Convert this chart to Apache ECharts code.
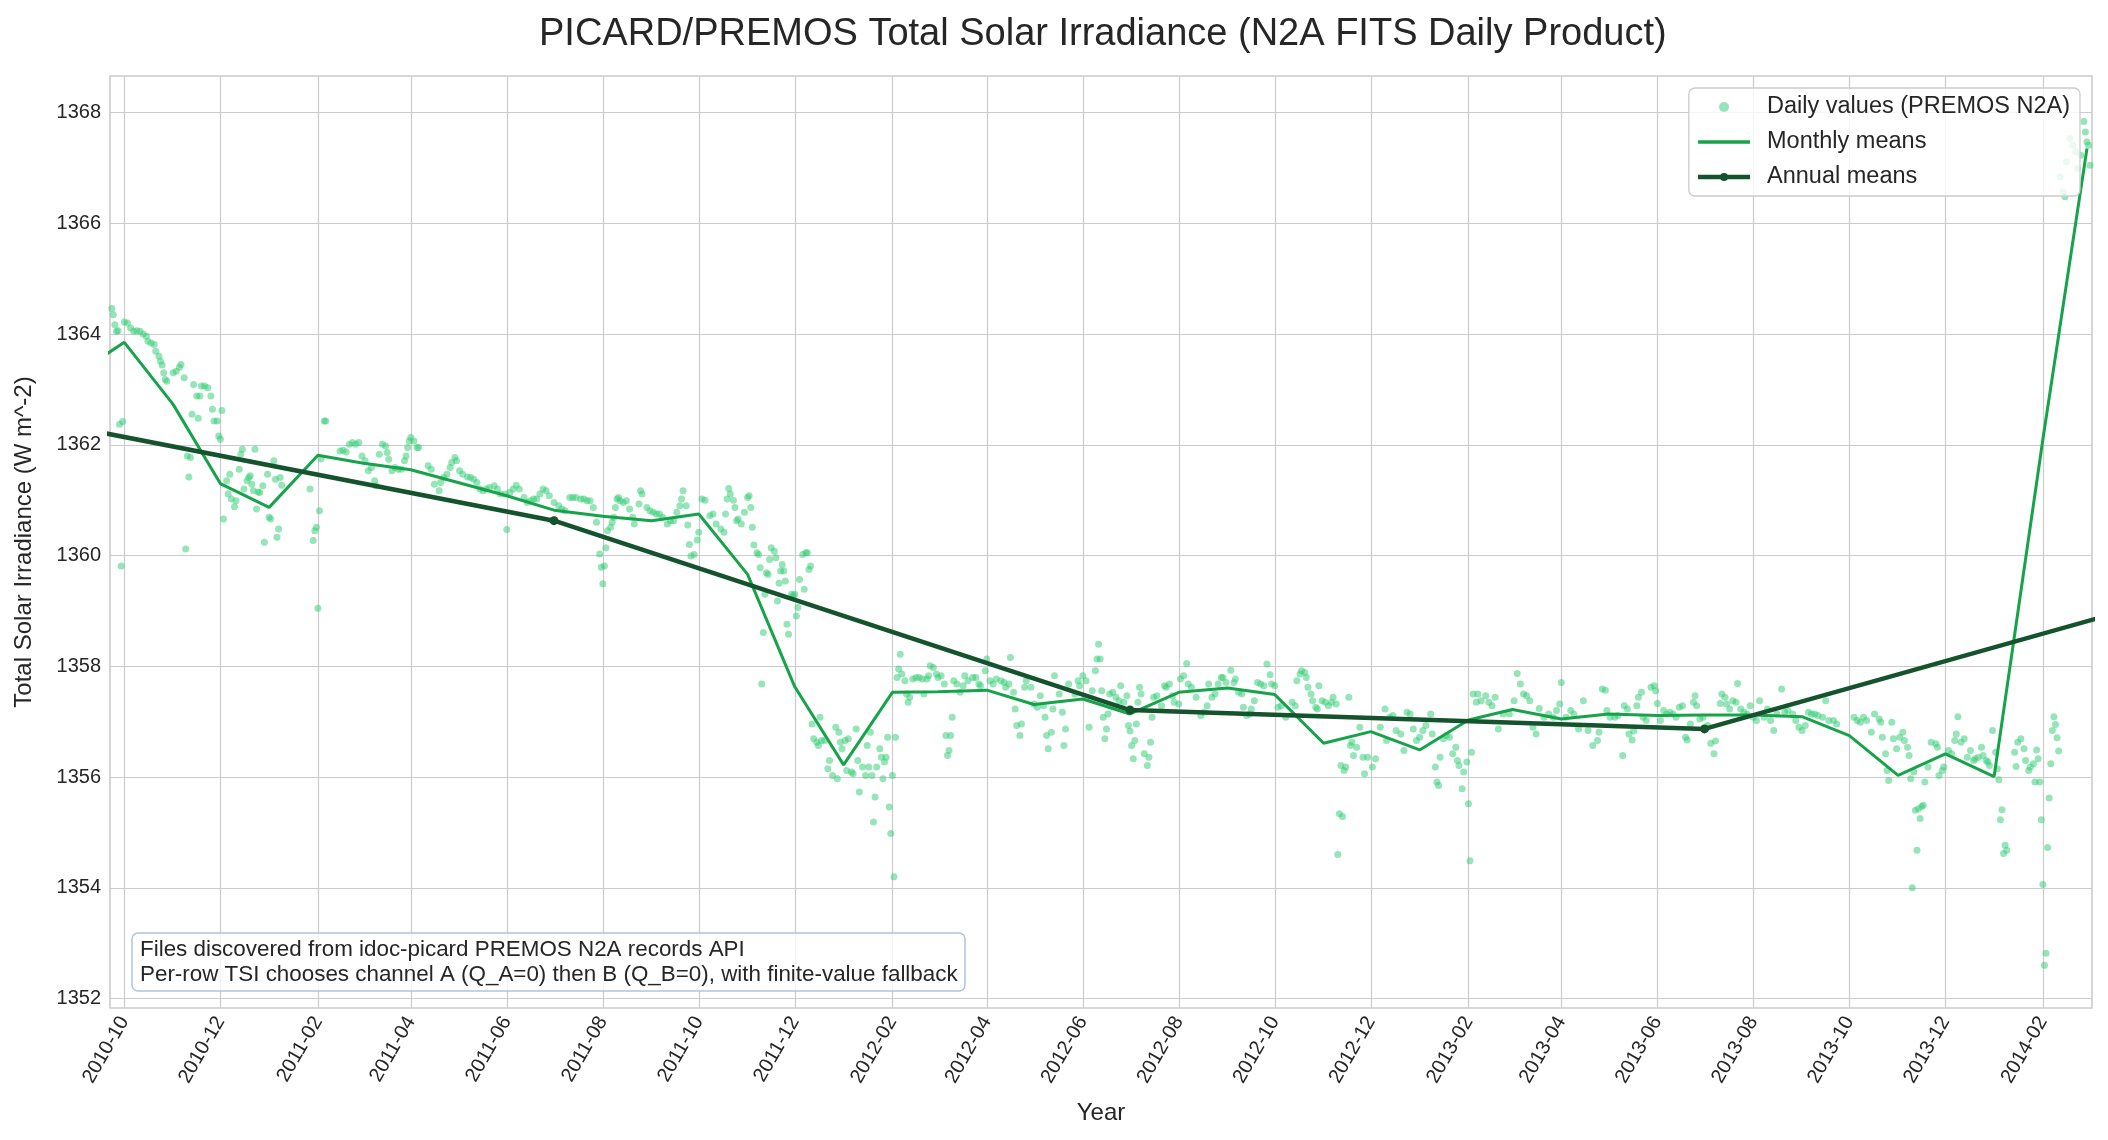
<!DOCTYPE html>
<html>
<head>
<meta charset="utf-8">
<title>PICARD/PREMOS Total Solar Irradiance</title>
<script src="https://cdn.jsdelivr.net/npm/echarts@6.0.0/dist/echarts.min.js"></script>
<style>
    html, body { margin: 0; padding: 0; background: #ffffff; }
    #chart { width: 2108px; height: 1140px; }
</style>
</head>
<body>
<div id="chart"></div>
<script>
// daily values: [days after 2010-10-01, TSI W m^-2]
const daily2010 = [
    [-8, 1364.46], [-7, 1364.35], [-6, 1364.17], [-5, 1364.05], [-4, 1364.06], [-3, 1362.37], [-2, 1359.81], [-1, 1362.42],
    [0, 1364.22], [2, 1364.20], [4, 1364.11], [6, 1364.05], [8, 1364.06], [10, 1364.05], [12, 1364.00], [14, 1363.96],
    [15, 1363.87], [17, 1363.84], [19, 1363.81], [20, 1363.69], [22, 1363.60], [23, 1363.51], [24, 1363.44], [25, 1363.30],
    [26, 1363.18], [27, 1363.15], [31, 1363.30], [33, 1363.33], [35, 1363.40], [36, 1363.45], [38, 1363.21], [39, 1360.12],
    [40, 1361.80], [41, 1361.42], [42, 1361.77], [43, 1362.55], [44, 1363.09], [46, 1362.88], [47, 1362.48], [48, 1362.88],
    [49, 1363.06], [51, 1363.06], [53, 1363.03], [55, 1362.88], [56, 1362.64], [57, 1362.43], [59, 1362.43], [60, 1362.16],
    [61, 1362.10], [62, 1362.62], [63, 1360.66], [65, 1361.35], [66, 1361.11], [67, 1361.47], [68, 1361.02], [70, 1360.88],
    [71, 1360.99], [73, 1361.56], [74, 1361.83], [75, 1361.92], [76, 1361.20], [78, 1361.35], [79, 1361.41], [80, 1361.44],
    [81, 1361.29], [82, 1361.17], [83, 1361.92], [84, 1360.84], [85, 1361.15], [86, 1361.14], [88, 1361.26], [89, 1360.24],
    [91, 1361.47]
]
const daily2011 = [
    [92, 1360.69], [93, 1360.66], [95, 1361.71], [96, 1361.38], [97, 1360.33], [98, 1360.48], [99, 1361.41], [100, 1361.27],
    [118, 1361.20], [120, 1360.27], [121, 1360.45], [122, 1360.51], [123, 1359.05], [124, 1360.81], [125, 1361.75], [127, 1362.43],
    [128, 1362.43], [137, 1361.89], [139, 1361.90], [141, 1361.87], [143, 1362.01], [145, 1362.04], [147, 1362.01], [149, 1362.04],
    [151, 1361.80], [153, 1361.71], [155, 1361.53], [157, 1361.59], [159, 1361.35], [160, 1361.26], [162, 1361.83], [164, 1362.01],
    [166, 1361.98], [167, 1361.86], [168, 1361.74], [170, 1361.53], [172, 1361.59], [174, 1361.56], [176, 1361.56], [178, 1361.71],
    [179, 1361.80], [180, 1361.95], [181, 1362.07], [182, 1362.13], [184, 1362.07], [186, 1361.95], [187, 1361.95],
    [193, 1361.62], [195, 1361.56], [197, 1361.29], [200, 1361.17], [201, 1361.32], [203, 1361.41], [205, 1361.47], [207, 1361.59],
    [208, 1361.68], [210, 1361.77], [211, 1361.71], [213, 1361.53], [215, 1361.47], [218, 1361.42], [220, 1361.41], [222, 1361.38],
    [224, 1361.32], [226, 1361.20], [228, 1361.17], [230, 1361.20], [232, 1361.23], [235, 1361.26], [237, 1361.20], [239, 1361.11],
    [242, 1361.11], [243, 1360.47], [245, 1361.14], [247, 1361.20], [249, 1361.27], [251, 1361.20], [254, 1361.05], [256, 1360.96],
    [258, 1360.99], [260, 1361.02], [262, 1361.02], [264, 1361.11], [266, 1361.20], [268, 1361.17], [270, 1361.08], [273, 1360.96],
    [276, 1360.90], [278, 1360.84], [280, 1360.81], [283, 1361.05], [285, 1361.05], [287, 1361.05], [290, 1361.02], [292, 1361.02],
    [294, 1360.99], [296, 1360.99], [298, 1360.87], [300, 1360.60], [302, 1360.03], [303, 1359.79], [304, 1359.49], [305, 1359.81],
    [306, 1360.14], [307, 1360.45], [309, 1360.51], [310, 1360.60], [311, 1360.69], [312, 1360.87], [313, 1361.02], [314, 1361.05],
    [315, 1360.99], [317, 1360.96], [319, 1360.99], [321, 1360.84], [323, 1360.69], [324, 1360.57], [327, 1360.93], [328, 1361.17],
    [329, 1361.11], [332, 1360.87], [334, 1360.81], [336, 1360.78], [338, 1360.75], [340, 1360.75], [342, 1360.69], [345, 1360.57],
    [347, 1360.63], [349, 1360.63], [351, 1360.78], [353, 1360.90], [354, 1361.02], [355, 1361.17], [357, 1360.90], [358, 1360.55],
    [359, 1360.20], [360, 1359.99], [362, 1360.02], [364, 1360.28], [365, 1360.42], [367, 1361.02], [369, 1361.00], [372, 1360.72],
    [374, 1360.75], [376, 1360.57], [379, 1360.48], [381, 1360.42], [382, 1360.75], [383, 1361.02], [384, 1361.21], [385, 1361.11],
    [387, 1361.00], [388, 1360.87], [389, 1360.63], [390, 1360.66], [392, 1360.57], [394, 1360.78], [396, 1361.05], [397, 1361.08],
    [398, 1360.87], [399, 1360.51], [400, 1360.19], [402, 1360.05], [403, 1360.02], [404, 1359.78], [405, 1357.68], [406, 1358.61],
    [407, 1359.30], [408, 1359.69], [409, 1359.66], [410, 1359.93], [411, 1360.14], [413, 1360.08], [414, 1359.96], [415, 1359.18],
    [416, 1359.50], [417, 1359.72], [418, 1359.84], [419, 1359.72], [420, 1359.54], [421, 1358.76], [422, 1358.58], [424, 1359.30],
    [425, 1359.27], [426, 1359.30], [427, 1358.91], [428, 1359.06], [429, 1359.57], [431, 1360.02], [432, 1359.39], [433, 1360.05],
    [434, 1360.05], [435, 1359.75], [436, 1359.81], [437, 1356.96], [438, 1356.69], [440, 1356.63], [441, 1356.57], [442, 1357.08],
    [443, 1356.66], [445, 1356.66], [447, 1356.15], [448, 1356.30], [450, 1356.03], [452, 1356.90], [453, 1355.97], [454, 1356.81],
    [455, 1356.63], [456, 1356.51]
]
const daily2012 = [
    [458, 1356.66], [459, 1356.12], [460, 1356.69], [462, 1356.09], [463, 1356.06], [465, 1356.87], [466, 1356.30], [467, 1355.73],
    [469, 1356.18], [471, 1356.03], [472, 1356.57], [473, 1356.18], [474, 1356.81], [475, 1356.03], [476, 1355.19], [477, 1355.64],
    [478, 1356.18], [480, 1356.51], [481, 1356.36], [482, 1355.97], [483, 1356.27], [484, 1356.36], [485, 1356.72], [486, 1355.46],
    [487, 1354.98], [488, 1356.03], [489, 1354.20], [490, 1356.72], [491, 1357.80], [492, 1357.95], [493, 1358.22], [494, 1357.86],
    [496, 1357.74], [497, 1357.50], [498, 1357.35], [499, 1357.44], [501, 1357.77], [503, 1357.80], [505, 1357.80], [507, 1357.77],
    [508, 1357.50], [510, 1357.77], [511, 1357.83], [512, 1358.01], [514, 1357.98], [516, 1357.86], [517, 1357.80], [519, 1357.83],
    [521, 1357.68], [522, 1356.75], [523, 1356.39], [524, 1356.48], [525, 1356.75], [526, 1357.08], [527, 1357.74], [529, 1357.68],
    [531, 1357.53], [533, 1357.65], [534, 1357.83], [536, 1357.74], [539, 1357.80], [541, 1357.80], [543, 1357.68], [544, 1357.65],
    [547, 1357.92], [548, 1358.13], [550, 1357.74], [552, 1357.68], [554, 1357.77], [557, 1357.74], [559, 1357.71], [560, 1357.62],
    [562, 1357.68], [563, 1358.16], [565, 1357.53], [566, 1357.23], [567, 1356.93], [569, 1356.75], [570, 1356.96], [572, 1357.62],
    [573, 1357.74], [576, 1357.62], [578, 1357.32], [580, 1357.26], [582, 1357.47], [584, 1357.29], [585, 1357.08], [586, 1356.75],
    [587, 1356.51], [589, 1356.81], [590, 1357.23], [591, 1357.83], [594, 1357.50], [596, 1357.17], [597, 1356.57], [598, 1356.87],
    [600, 1357.68], [604, 1357.50], [606, 1357.74], [607, 1357.65], [609, 1357.83], [611, 1357.74], [613, 1356.90], [615, 1357.56],
    [617, 1357.92], [618, 1358.13], [619, 1358.40], [620, 1358.13], [621, 1357.56], [622, 1357.08], [623, 1356.69], [624, 1356.87],
    [625, 1357.14], [626, 1357.50], [628, 1357.53], [630, 1357.44], [632, 1357.38], [633, 1357.65], [635, 1357.35], [637, 1357.47],
    [638, 1356.93], [639, 1356.83], [640, 1356.57], [641, 1356.33], [642, 1356.66], [643, 1356.96], [644, 1357.35], [645, 1357.62],
    [646, 1357.50], [648, 1356.42], [650, 1356.21], [651, 1356.36], [652, 1356.63], [653, 1357.08], [654, 1357.44], [656, 1357.47],
    [659, 1357.29], [661, 1357.65], [662, 1357.62], [664, 1357.68], [666, 1357.47], [667, 1357.35], [670, 1357.32], [671, 1357.77],
    [673, 1357.83], [675, 1358.05], [676, 1357.68], [678, 1357.62], [681, 1357.44], [684, 1357.11], [686, 1357.17], [688, 1357.29],
    [689, 1357.68], [691, 1357.44], [693, 1357.50], [695, 1357.68], [697, 1357.80], [698, 1357.80], [700, 1357.71], [703, 1357.93],
    [705, 1357.71], [706, 1357.77], [708, 1357.53], [710, 1357.50], [711, 1357.26], [713, 1357.11], [715, 1357.14], [716, 1357.23],
    [718, 1357.38], [720, 1357.71], [722, 1357.68], [724, 1357.65], [726, 1358.04], [728, 1357.85], [729, 1357.68], [731, 1357.65],
    [733, 1357.26], [735, 1357.29], [738, 1357.08], [742, 1357.35], [744, 1357.29], [745, 1357.74], [747, 1357.86], [748, 1357.92],
    [750, 1357.89], [751, 1357.80], [752, 1357.62], [754, 1357.50], [755, 1357.38], [757, 1357.26], [758, 1357.23], [759, 1357.65],
    [761, 1357.38], [763, 1357.35], [765, 1357.29], [767, 1357.35], [768, 1357.44], [770, 1357.32], [771, 1354.60], [772, 1355.34],
    [773, 1356.21], [774, 1355.29], [775, 1356.12], [776, 1356.18], [778, 1357.44], [779, 1356.57], [780, 1356.63], [781, 1356.39],
    [783, 1356.54], [785, 1356.90], [787, 1356.36], [788, 1356.06], [790, 1356.36], [793, 1356.18], [795, 1356.33], [798, 1356.90],
    [801, 1357.23], [802, 1356.66], [804, 1357.08], [806, 1357.11], [808, 1356.84], [811, 1356.78], [813, 1356.48], [815, 1357.17],
    [817, 1357.14], [819, 1356.87], [821, 1356.66]
]
const daily2013 = [
    [823, 1356.72], [825, 1356.84], [827, 1356.93], [830, 1357.14], [831, 1356.78], [833, 1356.18], [834, 1355.91], [835, 1355.85],
    [836, 1356.36], [838, 1356.69], [840, 1356.75], [842, 1356.72], [844, 1356.42], [846, 1356.54], [847, 1356.30], [848, 1356.21],
    [850, 1355.79], [851, 1356.09], [853, 1356.27], [854, 1355.52], [855, 1354.49], [856, 1356.45], [857, 1357.50], [859, 1357.35],
    [860, 1357.50], [862, 1357.38], [865, 1357.47], [867, 1357.35], [869, 1357.29], [871, 1357.44], [873, 1356.87], [876, 1357.14],
    [880, 1357.14], [883, 1357.38], [885, 1357.87], [887, 1357.68], [889, 1357.50], [891, 1357.47], [893, 1357.38], [895, 1356.90],
    [897, 1356.78], [899, 1357.24], [902, 1357.08], [905, 1357.14], [908, 1357.08], [910, 1357.20], [912, 1357.32], [913, 1357.71],
    [916, 1357.08], [919, 1357.20], [921, 1357.14], [924, 1356.87], [927, 1357.38], [930, 1356.84], [933, 1356.57], [936, 1356.66],
    [937, 1356.81], [939, 1357.59], [941, 1357.57], [942, 1357.20], [944, 1357.08], [947, 1357.08], [949, 1357.11], [952, 1356.39],
    [953, 1357.29], [955, 1357.23], [956, 1356.78], [958, 1356.67], [959, 1356.83], [961, 1357.29], [962, 1357.44], [964, 1357.53],
    [965, 1357.08], [967, 1357.02], [970, 1357.62], [972, 1357.65], [973, 1357.56], [974, 1357.33], [976, 1357.02], [978, 1357.20],
    [980, 1357.14], [982, 1357.17], [984, 1357.14], [986, 1357.08], [988, 1357.26], [990, 1357.29], [992, 1356.72], [993, 1356.67],
    [995, 1356.96], [997, 1357.35], [998, 1357.47], [999, 1357.29], [1001, 1357.05], [1003, 1357.08], [1006, 1356.93], [1008, 1356.61],
    [1010, 1356.42], [1011, 1356.65], [1014, 1357.33], [1015, 1357.50], [1017, 1357.44], [1018, 1357.32], [1020, 1357.23], [1022, 1357.38],
    [1024, 1357.35], [1025, 1357.69], [1027, 1357.23], [1029, 1357.17], [1031, 1357.14], [1033, 1357.29], [1035, 1357.08], [1037, 1357.02],
    [1039, 1357.38], [1042, 1357.08], [1044, 1357.23], [1046, 1357.02], [1048, 1356.84], [1050, 1357.14], [1053, 1357.59], [1055, 1357.17],
    [1057, 1357.20], [1060, 1357.14], [1062, 1357.02], [1064, 1356.90], [1066, 1356.84], [1068, 1356.93], [1070, 1357.17], [1072, 1357.14],
    [1074, 1357.14], [1076, 1357.11], [1079, 1357.08], [1081, 1357.38], [1083, 1357.02], [1086, 1357.02], [1088, 1356.96],
    [1099, 1357.08], [1101, 1357.02], [1103, 1356.99], [1105, 1357.08], [1107, 1357.02], [1110, 1356.81], [1112, 1357.14], [1115, 1357.05],
    [1116, 1356.99], [1117, 1356.72], [1119, 1356.42], [1120, 1356.12], [1121, 1355.94], [1123, 1356.99], [1124, 1356.69], [1126, 1356.51],
    [1128, 1356.72], [1130, 1356.81], [1131, 1356.66], [1133, 1356.54], [1134, 1356.39], [1135, 1355.97], [1136, 1354.00], [1137, 1356.09],
    [1138, 1355.40], [1139, 1354.68], [1140, 1355.43], [1141, 1355.25], [1142, 1355.47], [1143, 1355.49], [1144, 1355.91], [1146, 1356.18],
    [1148, 1356.63], [1151, 1356.60], [1152, 1356.54], [1153, 1356.03], [1155, 1356.12], [1156, 1356.18], [1159, 1356.48], [1161, 1356.42],
    [1163, 1356.66], [1164, 1356.78], [1165, 1357.09], [1167, 1356.63], [1169, 1356.69], [1171, 1356.36], [1173, 1356.48], [1175, 1356.30],
    [1176, 1356.33], [1178, 1356.36], [1180, 1356.54], [1181, 1356.39], [1183, 1356.30], [1184, 1356.27], [1185, 1356.21], [1187, 1356.84]
]
const daily2014 = [
    [1189, 1356.45], [1190, 1356.15], [1191, 1355.95], [1192, 1355.23], [1193, 1355.41], [1194, 1354.62], [1195, 1354.77], [1196, 1354.68],
    [1201, 1356.45], [1202, 1356.19], [1203, 1356.63], [1205, 1356.69], [1207, 1356.51], [1208, 1356.30], [1210, 1356.12], [1211, 1356.18],
    [1213, 1356.24], [1214, 1355.91], [1215, 1356.49], [1216, 1356.33], [1217, 1355.91], [1218, 1355.23], [1219, 1354.06], [1220, 1352.60],
    [1221, 1352.82], [1222, 1354.73], [1223, 1355.62], [1224, 1356.24], [1225, 1356.84], [1226, 1357.09], [1227, 1356.95], [1228, 1356.71],
    [1229, 1356.47], [1230, 1366.84], [1232, 1366.57], [1233, 1366.48], [1234, 1367.11], [1236, 1367.53], [1238, 1367.41], [1240, 1367.29],
    [1241, 1366.99], [1243, 1367.23], [1245, 1367.84], [1246, 1367.65], [1247, 1367.47], [1248, 1367.41], [1249, 1367.05]
]

// monthly means (plotted at the first of the month)
const monthLabels = [
    '2010-09', '2010-10', '2010-11', '2010-12', '2011-01', '2011-02', '2011-03', '2011-04', '2011-05', '2011-06', '2011-07',
    '2011-08', '2011-09', '2011-10', '2011-11', '2011-12', '2012-01', '2012-02', '2012-03', '2012-04', '2012-05', '2012-06',
    '2012-07', '2012-08', '2012-09', '2012-10', '2012-11', '2012-12', '2013-01', '2013-02', '2013-03', '2013-04', '2013-05',
    '2013-06', '2013-07', '2013-08', '2013-09', '2013-10', '2013-11', '2013-12', '2014-01', '2014-02', '2014-03'
]
const monthlyMeans = [
    1363.29, 1363.85, 1362.73, 1361.30, 1360.87, 1361.81, 1361.67, 1361.55, 1361.32, 1361.08, 1360.82,
    1360.71, 1360.63, 1360.75, 1359.66, 1357.63, 1356.22, 1357.53, 1357.54, 1357.57, 1357.31, 1357.41,
    1357.14, 1357.53, 1357.61, 1357.49, 1356.61, 1356.82, 1356.49, 1357.03, 1357.22, 1357.05, 1357.14,
    1357.11, 1357.12, 1357.12, 1357.09, 1356.75, 1356.03, 1356.42, 1356.01, 1362.10, 1367.35
]

// annual means (plotted at 1 July of each year)
const years = [2010, 2011, 2012, 2013, 2014]
const annualMeans = [1362.65, 1360.63, 1357.21, 1356.87, 1359.79]

// axis ticks
const xTickLabels = [
    '2010-10', '2010-12', '2011-02', '2011-04', '2011-06', '2011-08', '2011-10', '2011-12', '2012-02', '2012-04', '2012-06',
    '2012-08', '2012-10', '2012-12', '2013-02', '2013-04', '2013-06', '2013-08', '2013-10', '2013-12', '2014-02'
]
const yTicks = [1352, 1354, 1356, 1358, 1360, 1362, 1364, 1366, 1368]

const DAY = 86400000
const BASE = Date.UTC(2010, 9, 1)
const fontFamily = '"Liberation Sans", Arial, Helvetica, sans-serif'
const textColor = '#262626'
const dailyColor = '#2ecc71'
const monthlyColor = '#16a34a'
const annualColor = '#14532d'

function monthTime (s) {
    let p = s.split('-')
    return Date.UTC(+p[0], +p[1] - 1, 1)
}
function pad2 (n) {
    return n < 10 ? '0' + n : '' + n
}

// x values are kept as UTC milliseconds on a plain value axis
let dailyData = [].concat(daily2010, daily2011, daily2012, daily2013, daily2014)
    .map(function (d) { return [BASE + d[0] * DAY, d[1]] })
let monthlyData = monthLabels.map(function (m, i) { return [monthTime(m), monthlyMeans[i]] })
let annualData = years.map(function (y, i) { return [Date.UTC(y, 6, 1), annualMeans[i]] })
let xTicks = xTickLabels.map(monthTime)

let myChart = echarts.init(document.getElementById('chart'))
myChart.setOption({
    animation: false,
    backgroundColor: '#ffffff',
    textStyle: { fontFamily: fontFamily },
    title: [
        {
            // centred over the plot area rather than the whole page
            text: 'PICARD/PREMOS Total Solar Irradiance (N2A FITS Daily Product)',
            left: 534,
            top: 11,
            padding: [5, 5, 5, 5],
            textStyle: { fontSize: 38, fontWeight: 'normal', color: textColor, fontFamily: fontFamily }
        },
        {
            // note box in the lower left corner
            text: 'Files discovered from idoc-picard PREMOS N2A records API\nPer-row TSI chooses channel A (Q_A=0) then B (Q_B=0), with finite-value fallback',
            left: 132,
            top: 933,
            padding: [4, 8, 4, 8],
            backgroundColor: 'rgba(255,255,255,0.8)',
            borderColor: '#b0c4de',
            borderWidth: 1.5,
            borderRadius: 6,
            textStyle: { fontSize: 22.4, lineHeight: 25, fontWeight: 'normal', color: textColor, fontFamily: fontFamily }
        }
    ],
    legend: {
        orient: 'vertical',
        right: 28,
        top: 88,
        padding: [7, 10, 7, 7],
        itemGap: 11,
        itemWidth: 52,
        itemHeight: 10,
        backgroundColor: 'rgba(255,255,255,0.8)',
        borderColor: '#cccccc',
        borderWidth: 1.3,
        borderRadius: 6,
        z: 10,
        textStyle: { fontSize: 23.5, color: textColor, fontFamily: fontFamily, padding: [0, 0, 0, 12] },
        data: [
            { name: 'Daily values (PREMOS N2A)', icon: 'circle', itemStyle: { color: dailyColor, opacity: 0.5 } },
            {
                name: 'Monthly means',
                itemStyle: { color: 'rgba(0,0,0,0)', borderWidth: 0 },
                lineStyle: { color: monthlyColor, width: 3.3 }
            },
            {
                name: 'Annual means',
                itemStyle: { color: annualColor },
                lineStyle: { color: annualColor, width: 4.5 }
            }
        ]
    },
    grid: {
        left: 110,
        right: 16,
        top: 76,
        bottom: 132,
        show: true,
        borderColor: '#cccccc',
        borderWidth: 1.6,
        containLabel: false
    },
    xAxis: {
        type: 'value',
        min: BASE - 9.1 * DAY,
        max: BASE + 1250.2 * DAY,
        name: 'Year',
        nameLocation: 'middle',
        nameGap: 93,
        nameTextStyle: { fontSize: 24, color: textColor },
        axisLine: { show: false },
        axisTick: { show: false, customValues: xTicks },
        axisLabel: {
            customValues: xTicks,
            rotate: 60,
            margin: 10,
            fontSize: 20,
            color: textColor,
            formatter: function (v) {
                let d = new Date(v)
                return d.getUTCFullYear() + '-' + pad2(d.getUTCMonth() + 1)
            }
        },
        splitLine: { show: true, lineStyle: { color: '#cccccc', width: 1.2 } }
    },
    yAxis: {
        type: 'value',
        min: 1351.83,
        max: 1368.66,
        name: 'Total Solar Irradiance (W m^-2)',
        nameLocation: 'middle',
        nameGap: 74,
        nameTextStyle: { fontSize: 24, color: textColor },
        axisLine: { show: false },
        axisTick: { show: false, customValues: yTicks },
        axisLabel: {
            customValues: yTicks,
            margin: 9,
            fontSize: 20,
            color: textColor,
            formatter: function (v) { return String(Math.round(v)) }
        },
        splitLine: { show: true, lineStyle: { color: '#cccccc', width: 1.2 } }
    },
    series: [
        {
            name: 'Daily values (PREMOS N2A)',
            type: 'scatter',
            data: dailyData,
            symbolSize: 7,
            clip: true,
            itemStyle: { color: dailyColor, opacity: 0.5 },
            z: 1
        },
        {
            name: 'Monthly means',
            type: 'line',
            data: monthlyData,
            symbol: 'none',
            clip: true,
            lineStyle: { color: monthlyColor, width: 3 },
            itemStyle: { color: monthlyColor },
            z: 2
        },
        {
            name: 'Annual means',
            type: 'line',
            data: annualData,
            symbol: 'circle',
            symbolSize: 9,
            clip: true,
            lineStyle: { color: annualColor, width: 4.5 },
            itemStyle: { color: annualColor },
            z: 3
        }
    ]
})
</script>
</body>
</html>
